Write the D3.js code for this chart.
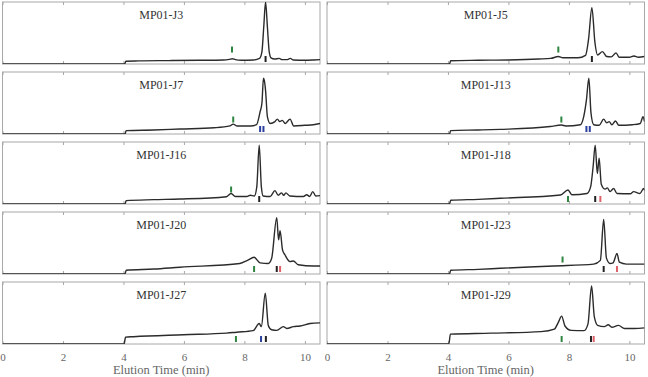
<!DOCTYPE html>
<html>
<head>
<meta charset="utf-8">
<script src="https://cdn.jsdelivr.net/npm/d3@7"></script>
<style>
  body { margin: 0; background: #fff; }
</style>
</head>
<body>
<div class="chroma"></div>
<script>
// data: elution time (min), normalised signal
var samples = ["MP01-J3", "MP01-J5", "MP01-J7", "MP01-J13", "MP01-J16",
               "MP01-J18", "MP01-J20", "MP01-J23", "MP01-J27", "MP01-J29"];

var xTicks = [0, 2, 4, 6, 8, 10];

var j3 = [[0,0],[4.04,0],[4.08,0.045],[4.5,0.05],[5.5,0.055],[6.5,0.06],[7.3,0.065],[7.5,0.075],[7.6,0.085],[7.7,0.07],
  [7.9,0.06],[8.3,0.065],[8.5,0.09],[8.58,0.2],[8.64,0.6],[8.7,1.0],[8.76,0.6],[8.82,0.2],[8.88,0.1],[9.0,0.08],
  [9.15,0.09],[9.25,0.07],[9.4,0.07],[9.52,0.09],[9.62,0.065],[10,0.06],[10.3,0.065],[10.5,0.07]];
var j5 = [[0,0],[4.05,0],[4.09,0.053],[5,0.06],[6,0.065],[7,0.08],[7.4,0.09],[7.65,0.12],[7.8,0.1],[8.3,0.1],
  [8.55,0.14],[8.65,0.4],[8.76,0.91],[8.86,0.35],[8.95,0.145],[9.11,0.2],[9.25,0.12],[9.4,0.115],[9.56,0.18],[9.66,0.11],
  [10,0.11],[10.15,0.13],[10.3,0.11],[10.5,0.12]];
var j7 = [[0,0],[4.05,0],[4.09,0.055],[5,0.065],[5.87,0.08],[7,0.1],[7.52,0.13],[7.63,0.16],[7.75,0.13],[8.2,0.13],
  [8.4,0.15],[8.52,0.36],[8.58,0.5],[8.63,0.9],[8.66,0.86],[8.7,0.7],[8.76,0.28],[8.85,0.17],[9.01,0.2],[9.09,0.24],
  [9.17,0.2],[9.25,0.22],[9.35,0.17],[9.51,0.24],[9.63,0.13],[10,0.14],[10.28,0.15],[10.5,0.17]];
var j13 = [[0,0],[4.05,0],[4.09,0.055],[5,0.065],[5.73,0.075],[7.38,0.12],[7.75,0.145],[7.9,0.13],[8.38,0.15],[8.49,0.28],
  [8.58,0.55],[8.66,0.9],[8.73,0.34],[8.82,0.15],[9.0,0.14],[9.15,0.24],[9.25,0.18],[9.33,0.2],[9.42,0.15],[9.54,0.21],
  [9.65,0.14],[10.1,0.15],[10.36,0.17],[10.45,0.28],[10.5,0.2]];
var j16 = [[0,0],[4.05,0],[4.09,0.055],[5,0.07],[5.87,0.08],[7.41,0.118],[7.56,0.17],[7.7,0.12],[8.08,0.12],[8.19,0.14],
  [8.33,0.13],[8.41,0.28],[8.49,0.95],[8.56,0.28],[8.62,0.13],[8.85,0.12],[9.01,0.215],[9.12,0.14],[9.23,0.18],[9.3,0.14],
  [9.37,0.18],[9.5,0.13],[9.95,0.12],[10.06,0.15],[10.16,0.12],[10.26,0.2],[10.36,0.13],[10.5,0.135]];
var j18 = [[0,0],[4.05,0],[4.09,0.06],[5,0.075],[5.73,0.092],[7.72,0.145],[7.97,0.226],[8.1,0.15],[8.6,0.17],[8.72,0.28],
  [8.8,0.6],[8.87,0.95],[8.94,0.49],[9.0,0.74],[9.07,0.32],[9.2,0.24],[9.27,0.26],[9.36,0.2],[9.48,0.25],[9.59,0.17],
  [10.03,0.165],[10.14,0.2],[10.35,0.17],[10.47,0.25],[10.5,0.22]];
var j20 = [[0,0],[4.05,0],[4.09,0.06],[5,0.08],[5.87,0.11],[7.85,0.17],[8.1,0.22],[8.32,0.27],[8.52,0.18],[8.79,0.17],
  [8.9,0.25],[9.07,0.91],[9.13,0.55],[9.18,0.7],[9.26,0.39],[9.34,0.31],[9.51,0.2],[9.62,0.21],[9.78,0.15],[10.28,0.13],
  [10.5,0.13]];
var j23 = [[0,0],[4.05,0],[4.09,0.06],[5,0.075],[5.73,0.092],[7.5,0.13],[8.82,0.16],[9.04,0.22],[9.15,0.88],[9.24,0.26],
  [9.36,0.17],[9.46,0.18],[9.59,0.33],[9.67,0.19],[9.9,0.16],[10.5,0.16]];
var j27 = [[0,0],[4.02,0],[4.07,0.11],[4.33,0.118],[5.98,0.15],[7.41,0.175],[7.74,0.19],[8.29,0.215],[8.49,0.33],[8.56,0.28],
  [8.69,0.82],[8.79,0.3],[8.9,0.23],[9.07,0.22],[9.29,0.28],[9.4,0.25],[9.62,0.28],[9.84,0.29],[10.17,0.33],[10.5,0.34]];
var j29 = [[0,0],[4.03,0],[4.08,0.16],[5.42,0.175],[7.08,0.2],[7.52,0.24],[7.65,0.35],[7.76,0.45],[7.87,0.29],[8.07,0.22],
  [8.5,0.215],[8.63,0.32],[8.75,0.935],[8.84,0.44],[8.95,0.3],[9.17,0.28],[9.3,0.31],[9.42,0.27],[9.64,0.3],[9.84,0.25],
  [10.17,0.25],[10.5,0.26]];

var traces = [j3, j5, j7, j13, j16, j18, j20, j23, j27, j29];

// markers: [sample index, time, kind, level]
var markers = [
  [0,7.59,"green",0.185],[0,8.7,"black",0.032],
  [1,7.65,"green",0.185],[1,8.76,"black",0.032],
  [2,7.63,"green",0.185],[2,8.52,"blue",0.032],[2,8.63,"blue",0.032],
  [3,7.75,"green",0.185],[3,8.58,"blue",0.032],[3,8.69,"blue",0.032],
  [4,7.56,"green",0.185],[4,8.49,"black",0.032],
  [5,7.97,"green",0.032],[5,8.87,"black",0.032],[5,9.04,"red",0.032],
  [6,8.32,"green",0.032],[6,9.07,"black",0.032],[6,9.18,"red",0.032],
  [7,7.79,"green",0.185],[7,9.15,"black",0.032],[7,9.59,"red",0.032],
  [8,7.72,"green",0.032],[8,8.55,"blue",0.032],[8,8.71,"black",0.032],
  [9,7.76,"green",0.032],[9,8.73,"black",0.032],[9,8.82,"red",0.032]
];

var markColor = {green: "#2e8540", black: "#222", blue: "#2a3f9e", red: "#e0606a"};

// layout
var W = 648, H = 377,
    panelW = 317.5, panelH = 62,
    colX = [2.5, 327], rowY = [2, 72, 142, 212, 282];

var svg = d3.select("body").append("svg")
    .attr("width", W)
    .attr("height", H);

var x = d3.scaleLinear().domain([0, 10.5]).range([0, panelW]);
var y = d3.scaleLinear().domain([0, 1]).range([panelH, 0]);

var line = d3.line()
    .x(d => x(d[0]))
    .y(d => y(d[1]))
    .curve(d3.curveMonotoneX);

svg.append("clipPath").attr("id", "clip")
  .append("rect").attr("width", panelW).attr("height", panelH);

samples.forEach((name, i) => {
  var col = i % 2, row = Math.floor(i / 2);
  var g = svg.append("g")
      .attr("transform", "translate(" + colX[col] + "," + rowY[row] + ")");

  g.append("rect")
      .attr("width", panelW)
      .attr("height", panelH)
      .attr("fill", "none")
      .attr("stroke", "#a8a8a8")
      .attr("stroke-width", 1);

  // inner ticks, top and bottom
  g.append("g")
      .call(d3.axisTop(x).tickValues(xTicks).tickSize(-3).tickFormat(""))
      .call(a => a.select(".domain").remove())
      .selectAll("line").attr("stroke", "#a8a8a8");

  var bottom = g.append("g")
      .attr("transform", "translate(0," + panelH + ")")
      .call(d3.axisBottom(x).tickValues(xTicks).tickSize(-3).tickPadding(9)
            .tickFormat(row === 4 ? d3.format("d") : ""));
  bottom.select(".domain").remove();
  bottom.selectAll("line").attr("stroke", "#a8a8a8");
  bottom.selectAll("text")
      .attr("fill", "#666")
      .style("font-family", "'Liberation Serif'")
      .style("font-size", "11px");

  g.append("text")
      .attr("x", panelW / 2)
      .attr("y", 17)
      .attr("text-anchor", "middle")
      .attr("fill", "#333")
      .style("font-family", "'Liberation Serif'")
      .style("font-size", "12px")
      .text(name);

  g.append("path")
      .datum(traces[i])
      .attr("clip-path", "url(#clip)")
      .attr("d", line)
      .attr("fill", "none")
      .attr("stroke", "#2b2b2b")
      .attr("stroke-width", 1.4);

  g.selectAll(".mark")
      .data(markers.filter(m => m[0] === i))
    .enter().append("rect")
      .attr("class", "mark")
      .attr("x", d => x(d[1]) - 1)
      .attr("y", d => y(d[3]) - 6)
      .attr("width", 2)
      .attr("height", 6)
      .attr("fill", d => markColor[d[2]]);

  if (row === 4) {
    g.append("text")
        .attr("x", panelW / 2)
        .attr("y", panelH + 30)
        .attr("text-anchor", "middle")
        .attr("fill", "#666")
        .style("font-family", "'Liberation Serif'")
        .style("font-size", "12.5px")
        .text("Elution Time (min)");
  }
});
</script>
</body>
</html>
